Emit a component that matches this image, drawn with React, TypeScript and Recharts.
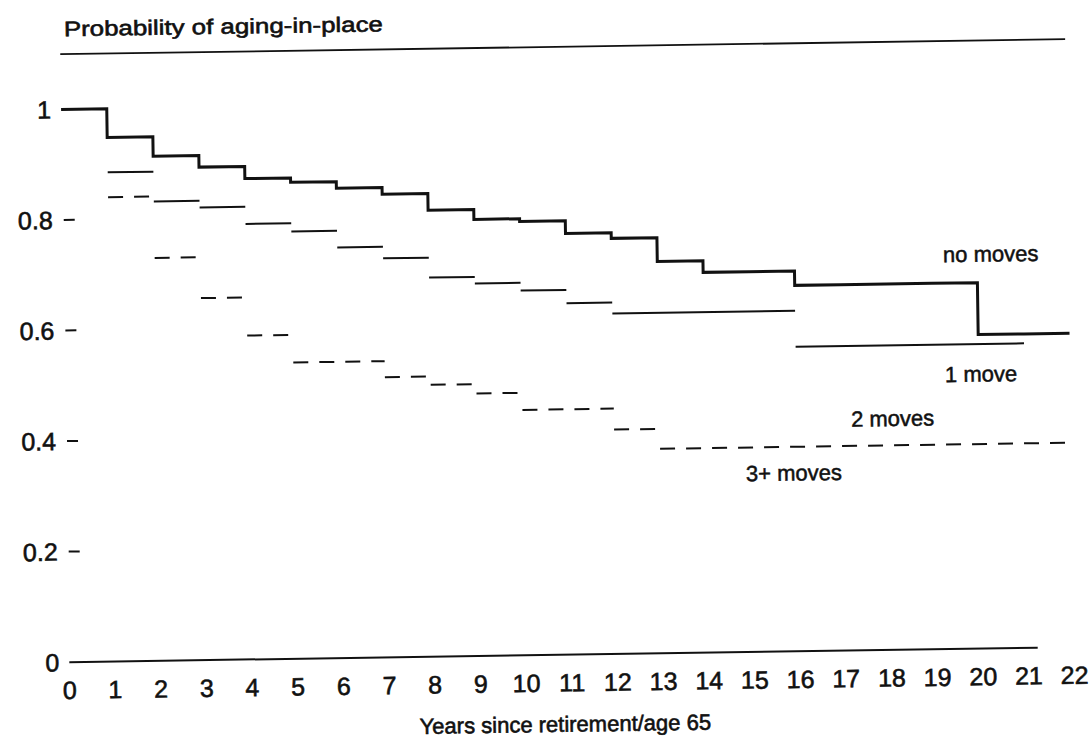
import React from 'react';
import { LineChart, Line, XAxis, YAxis, ReferenceLine, ReferenceDot } from 'recharts';

// years since retirement (x axis ticks)
const years = [0, 1, 2, 3, 4, 5, 6, 7, 8, 9, 10, 11, 12, 13, 14, 15, 16, 17, 18, 19, 20, 21, 22];
const yTicks = [0, 0.2, 0.4, 0.6, 0.8, 1];

// each value holds from year (start + i) to (start + i + 1)
const noMovesStart = 0;
const noMoves = [
  1.0, 0.948, 0.913, 0.892, 0.87, 0.862, 0.85, 0.838, 0.808, 0.79, 0.785,
  0.762, 0.752, 0.709, 0.688, 0.688, 0.662, 0.662, 0.662, 0.662, 0.568, 0.568,
];

const oneMoveStart = 1;
const oneMove = [
  0.885, 0.831, 0.819, 0.788, 0.773, 0.743, 0.722, 0.686, 0.674, 0.66,
  0.636, 0.616, 0.616, 0.616, 0.616, 0.551, 0.551, 0.551, 0.551, 0.551,
];

const twoMovesStart = 1;
const twoMoves = [
  0.84, 0.729, 0.655, 0.586, 0.536, 0.536, 0.507, 0.492, 0.475, 0.444, 0.444,
  0.406, 0.37, 0.37, 0.37, 0.37, 0.37, 0.37, 0.37, 0.37, 0.37,
];

const curveNames = ['no moves', '1 move', '2 moves', '3+ moves'];
const curveNameYears = [20.3, 20.05, 18.1, 15.92];
const curveNameValues = [0.714, 0.497, 0.419, 0.323];

const FONT = '"Liberation Sans", Arial, Helvetica, sans-serif';
const INK = '#111';

type Pt = { t: number; v: number | null };

// step curve with risers
const stepData = (start: number, vals: number[]): Pt[] => {
  const pts: Pt[] = vals.map((v, i) => ({ t: start + i, v }));
  pts.push({ t: start + vals.length, v: vals[vals.length - 1] });
  return pts;
};

// horizontal pieces only, broken between levels
const segmentData = (start: number, vals: number[]): Pt[] => {
  const out: Pt[] = [];
  let i = 0;
  while (i < vals.length) {
    let j = i;
    while (j + 1 < vals.length && vals[j + 1] === vals[i]) j++;
    out.push({ t: start + i, v: vals[i] }, { t: start + j + 1, v: vals[i] });
    if (j + 1 < vals.length) out.push({ t: start + j + 1, v: null });
    i = j + 1;
  }
  return out;
};

// scanned type looks heavy, thicken it a little
const heavy = { stroke: INK, strokeWidth: 0.6 };

const YTick = (props: any) => {
  const { x, y, payload } = props;
  return (
    <g>
      <text x={x} y={y} dy="0.355em" textAnchor="end" fontSize={25} fill={INK} fontFamily={FONT} {...heavy}>
        {String(payload.value)}
      </text>
      {payload.value !== 0 && payload.value !== 1 && (
        <line x1={x + 11} x2={x + 22} y1={y} y2={y} stroke={INK} strokeWidth={2} />
      )}
    </g>
  );
};

export default function App() {
  return (
    <div
      style={{
        position: 'absolute',
        left: 0,
        top: 0,
        width: 1092,
        height: 737,
        background: '#fff',
        transform: 'rotate(-0.855deg)',
        transformOrigin: '546px 368.5px',
      }}
    >
      <LineChart width={1092} height={737} margin={{ top: 47, right: 22, bottom: 52, left: 5 }}>
        <XAxis
          type="number"
          dataKey="t"
          domain={[0, 22]}
          ticks={years}
          interval={0}
          axisLine={false}
          tickLine={false}
          tickSize={0}
          tickMargin={19}
          height={30}
          tick={{ fontSize: 25, fill: INK, fontFamily: FONT, ...heavy }}
        />
        <YAxis
          type="number"
          domain={[0, 1.1]}
          ticks={yTicks}
          width={60}
          axisLine={false}
          tickLine={false}
          tickSize={0}
          tickMargin={10}
          tick={<YTick />}
        />
        <ReferenceLine segment={[{ x: 0, y: 1.1 }, { x: 22, y: 1.1 }]} stroke={INK} strokeWidth={1.8} />
        <ReferenceLine segment={[{ x: 0, y: 0 }, { x: 21.2, y: 0 }]} stroke={INK} strokeWidth={2} />

        <Line
          data={segmentData(twoMovesStart, twoMoves)}
          dataKey="v"
          type="linear"
          stroke={INK}
          strokeWidth={2}
          strokeDasharray="15 11"
          dot={false}
          activeDot={false}
          isAnimationActive={false}
        />
        <Line
          data={segmentData(oneMoveStart, oneMove)}
          dataKey="v"
          type="linear"
          stroke={INK}
          strokeWidth={2}
          dot={false}
          activeDot={false}
          isAnimationActive={false}
        />
        <Line
          data={stepData(noMovesStart, noMoves)}
          dataKey="v"
          type="stepAfter"
          stroke={INK}
          strokeWidth={3}
          dot={false}
          activeDot={false}
          isAnimationActive={false}
        />

        {curveNames.map((name, i) => (
          <ReferenceDot
            key={name}
            x={curveNameYears[i]}
            y={curveNameValues[i]}
            r={0}
            fill="none"
            stroke="none"
            label={{ value: name, position: 'center', fontSize: 22, fill: INK, fontFamily: FONT, stroke: INK, strokeWidth: 0.5 }}
          />
        ))}
      </LineChart>
      <svg
        width={1092}
        height={737}
        style={{ position: 'absolute', left: 0, top: 0, pointerEvents: 'none' }}
      >
        <text x={69} y={29} fontSize={21} fill={INK} fontFamily={FONT} textLength={319} lengthAdjust="spacingAndGlyphs" {...heavy}>
          Probability of aging-in-place
        </text>
        <text x={560} y={732} fontSize={22} fill={INK} fontFamily={FONT} textAnchor="middle" {...heavy}>
          Years since retirement/age 65
        </text>
      </svg>
    </div>
  );
}
